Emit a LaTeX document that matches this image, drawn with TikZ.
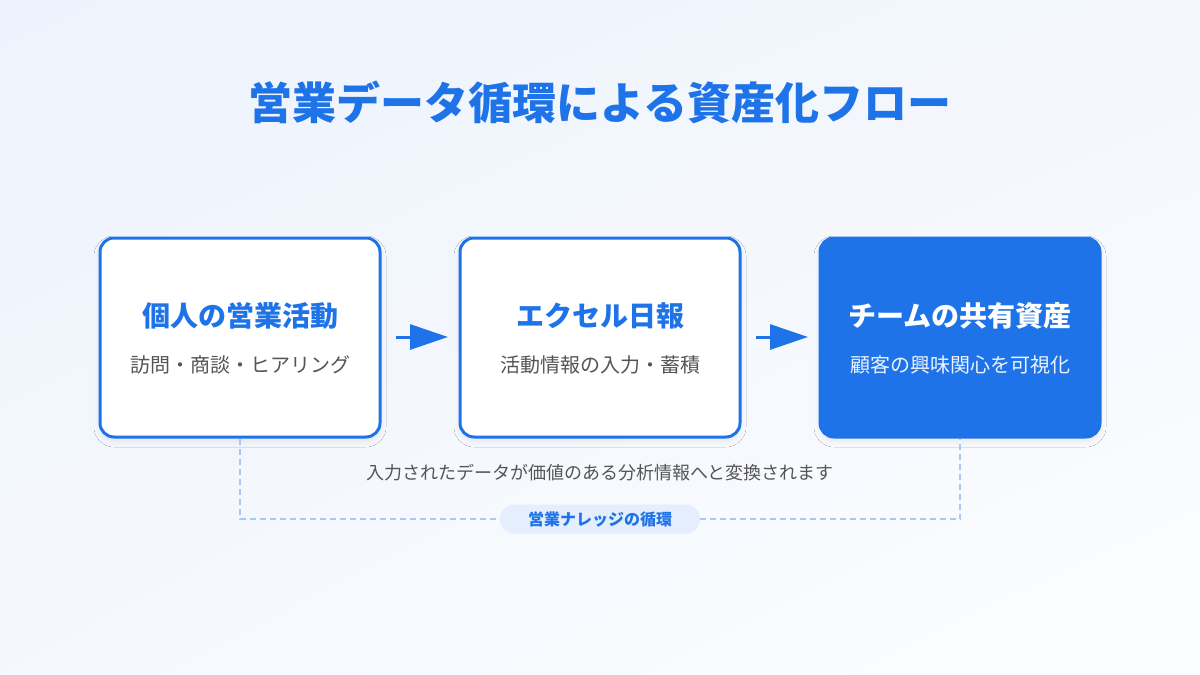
\documentclass[tikz,border=0pt]{standalone}
\usepackage{fontspec}
\setmainfont{Noto Sans CJK JP}
\usetikzlibrary{shadows.blur,arrows.meta,shadings}
\definecolor{mainblue}{HTML}{1E73E8}
\definecolor{subgray}{HTML}{555555}
\definecolor{dashblue}{HTML}{A9C9F4}
\definecolor{pillfill}{HTML}{E4EEFC}
\definecolor{bgA}{HTML}{EDF3FC}
\definecolor{bgB}{HTML}{FCFDFF}
\tikzset{
  card/.style={rounded corners=14pt, minimum width=280pt, minimum height=199pt, line width=3pt, draw=mainblue, fill=white,
    blur shadow={shadow xshift=0pt, shadow yshift=-4pt, shadow blur radius=6pt, shadow blur steps=12, shadow blur extra rounding=6pt, shadow opacity=7}},
  cardfill/.style={card, fill=mainblue},
  cardtitle/.style={font=\bfseries\fontsize{28}{31}\selectfont, text=mainblue},
  cardsub/.style={font=\fontsize{20}{23}\selectfont, text=subgray},
  flowarrow/.style={line width=3pt, draw=mainblue, -{Triangle[length=38pt,width=25pt]}},
  loopline/.style={dashed, dash pattern=on 6pt off 4pt, line width=1.5pt, draw=dashblue},
}
\begin{document}
\begin{tikzpicture}[x=1pt,y=-1pt]
\useasboundingbox (0,0) rectangle (1200,675);
\shade[upper left=bgA, upper right=bgA!60!bgB, lower left=bgA!50!bgB, lower right=bgB] (0,0) rectangle (1200,675);

\node[font=\bfseries\fontsize{44}{49}\selectfont, text=mainblue] (title) at (600,102) {営業データ循環による資産化フロー};

\node[card] (c1) at (240,337.5) {};
\node[card] (c2) at (600,337.5) {};
\node[cardfill] (c3) at (960,337.5) {};

\node[cardtitle] (t1) at (240,316) {個人の営業活動};
\node[cardsub] (s1) at (240,365) {訪問・商談・ヒアリング};
\node[cardtitle] (t2) at (600,316) {エクセル日報};
\node[cardsub] (s2) at (600,365) {活動情報の入力・蓄積};
\node[cardtitle, text=white] (t3) at (960,316) {チームの共有資産};
\node[cardsub, text=white!92!mainblue] (s3) at (960,365) {顧客の興味関心を可視化};

\coordinate (a1s) at (396,337);
\coordinate (a1e) at (448,337);
\coordinate (a2s) at (756,337);
\coordinate (a2e) at (808,337);
\draw[flowarrow] (a1s) -- (a1e);
\draw[flowarrow] (a2s) -- (a2e);

\node[font=\fontsize{18}{21}\selectfont, text=subgray] (cap) at (600,473) {入力されたデータが価値のある分析情報へと変換されます};

\coordinate (l1) at (240,519);
\coordinate (l2) at (960,519);
\draw[loopline] (c1.south) -- (l1) -- (l2) -- (c3.south);

\node[fill=pillfill, rounded corners=14pt, minimum width=200pt, minimum height=29pt, font=\bfseries\fontsize{16}{18}\selectfont, text=mainblue] (pill) at (600,519) {営業ナレッジの循環};
\end{tikzpicture}
\end{document}
